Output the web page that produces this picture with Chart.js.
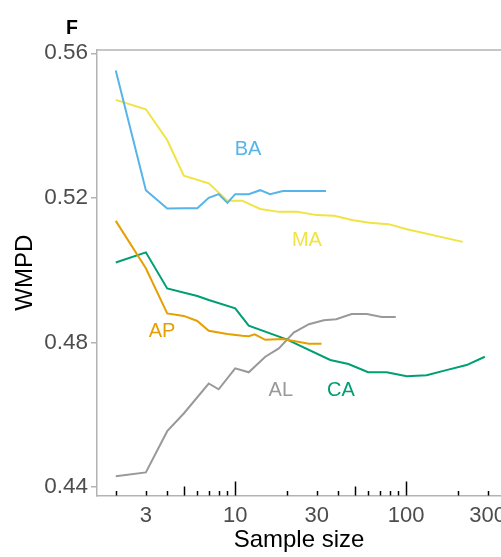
<!DOCTYPE html>
<html>
<head>
<meta charset="utf-8">
<script src="https://cdn.jsdelivr.net/npm/chart.js@4"></script>
<style>
  html, body { margin: 0; padding: 0; overflow: hidden; background: #ffffff; width: 501px; height: 557px; }
  canvas { display: block; }
</style>
</head>
<body>
<canvas id="c" width="530" height="557"></canvas>
<script>
// WMPD against sample size for each group (log sample-size axis)
const baN = [2, 3, 4, 5, 6, 7, 8, 9, 10, 12, 14, 16, 19, 34];
const baV = [0.5552, 0.5221, 0.5170, 0.5171, 0.5171, 0.5200, 0.5210, 0.5186, 0.5210, 0.5210, 0.5221, 0.5210, 0.5219, 0.5219];

const maN = [2, 3, 4, 5, 7, 9, 11, 14, 18, 23, 30, 38, 49, 61, 79, 101, 215];
const maV = [0.5471, 0.5445, 0.5360, 0.5261, 0.5240, 0.5192, 0.5192, 0.5169, 0.5161, 0.5161, 0.5152, 0.5150, 0.5138, 0.5131, 0.5127, 0.5113, 0.5078];

const apN = [2, 3, 4, 5, 6, 7, 9, 11, 12, 13, 15, 19, 27, 32];
const apV = [0.5136, 0.5005, 0.4880, 0.4873, 0.4859, 0.4832, 0.4823, 0.4818, 0.4817, 0.4822, 0.4807, 0.4809, 0.4796, 0.4796];

const caN = [2, 3, 4, 6, 7, 10, 12, 20, 36, 46, 60, 77, 101, 132, 172, 226, 289];
const caV = [0.5021, 0.5049, 0.4949, 0.4928, 0.4917, 0.4894, 0.4846, 0.4808, 0.4751, 0.4740, 0.4717, 0.4717, 0.4706, 0.4709, 0.4723, 0.4737, 0.4760];

const alN = [2, 3, 4, 5, 7, 8, 10, 12, 15, 18, 22, 27, 33, 39, 48, 59, 72, 87];
const alV = [0.4429, 0.4440, 0.4554, 0.4603, 0.4686, 0.4670, 0.4728, 0.4717, 0.4760, 0.4783, 0.4827, 0.4850, 0.4861, 0.4864, 0.4878, 0.4878, 0.4870, 0.4870];

const seriesNames = ['BA', 'MA', 'AP', 'CA', 'AL'];
const seriesColors = ['#56B4E9', '#F0E442', '#E69F00', '#009E73', '#999999'];
// in-panel name tags, placed in data coordinates
const tagN = [11.9, 26.3, 3.73, 41.6, 18.5];
const tagV = [0.5335, 0.5081, 0.4831, 0.4666, 0.4666];

const xTickLabels = [3, 10, 30, 100, 300];
const xMinorTicks = [2, 3, 4, 5, 6, 7, 8, 9, 10, 20, 30, 40, 50, 60, 70, 80, 90, 100, 200, 300];
const yTicks = [0.44, 0.48, 0.52, 0.56];

const FONT = "'Liberation Sans', Arial, Helvetica, sans-serif";
const AXIS_GREY = '#b3b3b3';

function pts(n, v) { return n.map((x, i) => ({ x: x, y: v[i] })); }
const seriesData = [pts(baN, baV), pts(maN, maV), pts(apN, apV), pts(caN, caV), pts(alN, alV)];

// frame line along the top of the panel
const panelTop = {
  id: 'panelTop',
  afterDraw(chart) {
    const { ctx, chartArea } = chart;
    ctx.save();
    ctx.strokeStyle = AXIS_GREY;
    ctx.lineWidth = 1.5;
    ctx.beginPath();
    ctx.moveTo(chartArea.left, chartArea.top);
    ctx.lineTo(chartArea.right + 40, chartArea.top);
    ctx.stroke();
    ctx.restore();
  }
};

// log-scale tick marks drawn upward from the x axis
const logTicks = {
  id: 'logTicks',
  afterDraw(chart) {
    const { ctx, chartArea } = chart;
    const xs = chart.scales.x;
    ctx.save();
    ctx.strokeStyle = '#000000';
    ctx.lineWidth = 1.5;
    xMinorTicks.forEach(t => {
      const d = t / Math.pow(10, Math.floor(Math.log10(t) + 1e-9));
      const len = Math.abs(d - 1) < 1e-6 ? 14 : (Math.abs(d - 5) < 1e-6 ? 9 : 4.5);
      const px = Math.round(xs.getPixelForValue(t)) + 0.5;
      ctx.beginPath();
      ctx.moveTo(px, chartArea.bottom);
      ctx.lineTo(px, chartArea.bottom - len);
      ctx.stroke();
    });
    ctx.restore();
  }
};

// series name tags and panel letter
const tags = {
  id: 'tags',
  afterDraw(chart) {
    const { ctx } = chart;
    const xs = chart.scales.x, ys = chart.scales.y;
    ctx.save();
    ctx.font = '20px ' + FONT;
    ctx.textAlign = 'center';
    ctx.textBaseline = 'middle';
    seriesNames.forEach((name, i) => {
      ctx.fillStyle = seriesColors[i];
      ctx.fillText(name, xs.getPixelForValue(tagN[i]), ys.getPixelForValue(tagV[i]));
    });
    ctx.fillStyle = '#000000';
    ctx.font = 'bold 19.5px ' + FONT;
    ctx.textAlign = 'left';
    ctx.textBaseline = 'alphabetic';
    ctx.fillText('F', 66, 34);
    ctx.restore();
  }
};

new Chart(document.getElementById('c'), {
  type: 'line',
  data: {
    datasets: seriesNames.map((name, i) => ({
      label: name,
      data: seriesData[i],
      borderColor: seriesColors[i],
      backgroundColor: seriesColors[i],
      borderWidth: 2,
      pointRadius: 0,
      tension: 0,
      fill: false
    }))
  },
  options: {
    responsive: false,
    animation: false,
    devicePixelRatio: 1,
    layout: { padding: { top: 50, right: 29, bottom: 0, left: 0 } },
    plugins: { legend: { display: false }, tooltip: { enabled: false }, title: { display: false } },
    scales: {
      x: {
        type: 'logarithmic',
        min: 1.553,
        max: 359.4,
        afterBuildTicks: s => { s.ticks = xTickLabels.map(v => ({ value: v })); },
        afterFit: s => { s.height = 61.5; },
        grid: { display: true, drawOnChartArea: false, drawTicks: false },
        border: { display: true, color: AXIS_GREY, width: 1.5 },
        ticks: {
          color: '#4d4d4d',
          font: { family: FONT, size: 22 },
          padding: 7,
          maxRotation: 0,
          autoSkip: false,
          callback: v => String(v)
        },
        title: {
          display: true,
          text: 'Sample size',
          color: '#000000',
          font: { family: FONT, size: 24 },
          padding: { top: 0, bottom: 2 }
        }
      },
      y: {
        min: 0.4376,
        max: 0.5609,
        afterBuildTicks: s => { s.ticks = yTicks.map(v => ({ value: v })); },
        afterFit: s => { s.width = 97; },
        grid: { display: true, drawOnChartArea: false, drawTicks: true, tickLength: 6, color: AXIS_GREY, lineWidth: 1.5 },
        border: { display: true, color: AXIS_GREY, width: 1.5 },
        ticks: {
          color: '#4d4d4d',
          font: { family: FONT, size: 22.5 },
          padding: 3,
          autoSkip: false,
          callback: v => Number(v).toFixed(2)
        },
        title: {
          display: true,
          text: 'WMPD',
          color: '#000000',
          font: { family: FONT, size: 24 },
          padding: { top: 11, bottom: 0 }
        }
      }
    }
  },
  plugins: [panelTop, logTicks, tags]
});
</script>
</body>
</html>
